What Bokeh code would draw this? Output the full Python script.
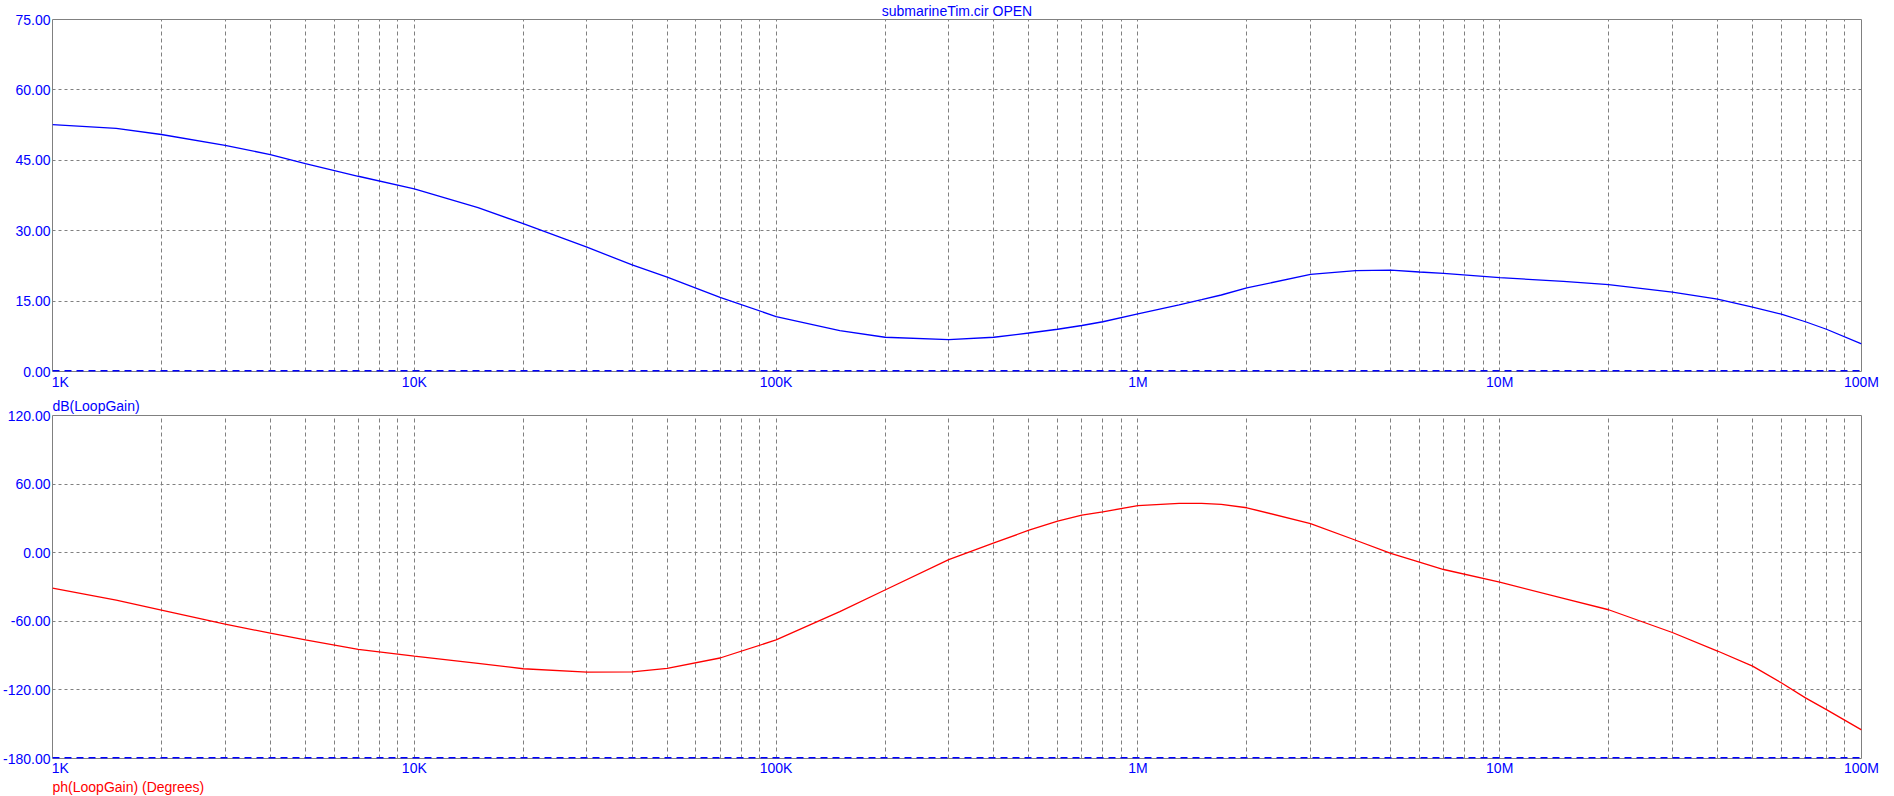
from bokeh.plotting import figure
from bokeh.models import (Range1d, Span, FixedTicker, PrintfTickFormatter, Title)
from bokeh.layouts import column
from bokeh.embed import file_html
from bokeh.resources import INLINE

# ---------------- data ----------------
freq = [1e3, 1.5e3, 2e3, 3e3, 4e3, 5e3, 7e3, 1e4, 1.5e4, 2e4, 3e4, 4e4, 5e4,
        7e4, 1e5, 1.5e5, 2e5, 3e5, 4e5, 5e5, 6e5, 7e5, 8e5, 1e6, 1.3e6,
        1.5e6, 1.7e6, 2e6, 3e6, 4e6, 5e6, 6e6, 7e6, 1e7, 1.5e7, 2e7, 3e7,
        4e7, 5e7, 6e7, 7e7, 8e7, 1e8]
mag_db = [52.6, 51.8, 50.5, 48.2, 46.2, 44.3, 41.6, 38.9, 34.9, 31.5, 26.5,
          22.7, 20.1, 15.8, 11.7, 8.7, 7.3, 6.8, 7.3, 8.2, 9.0, 9.8, 10.6,
          12.3, 14.2, 15.3, 16.3, 17.8, 20.7, 21.5, 21.6, 21.2, 20.9, 20.0,
          19.2, 18.5, 16.9, 15.4, 13.7, 12.2, 10.6, 9.0, 5.9]
phase_deg = [-31.0, -41.4, -50.2, -62.5, -70.4, -76.3, -84.5, -90.4, -96.8,
             -101.5, -104.5, -104.2, -101.2, -92.1, -76.3, -51.6, -32.6, -6.0,
             8.5, 19.7, 27.6, 32.9, 35.8, 41.1, 43.1, 43.2, 42.3, 39.3, 25.5,
             10.9, -0.6, -8.2, -14.7, -25.8, -39.9, -49.9, -69.8, -86.0, -99.2,
             -113.8, -127.0, -137.3, -155.0]

x_ticks = [1e3, 1e4, 1e5, 1e6, 1e7, 1e8]
x_tick_labels = ["\u00a0\u00a0\u00a0\u00a01K", "10K", "100K", "1M", "10M", "100M"]
mag_ticks = [0, 15, 30, 45, 60, 75]
phase_ticks = [-180, -120, -60, 0, 60, 120]

title_text = "submarineTim.cir OPEN"
mag_label = "dB(LoopGain)"
phase_label = "ph(LoopGain) (Degrees)"

# ---------------- style / layout ----------------
W = 1890
LB, RB = 52, 29
FONT = "Liberation Sans"
FS = "14px"
BLUE = "#0000ff"
RED = "#ff0000"
GRID = "#808080"
X0, X1 = 1e3, 1e8

minor_x = [m * 10 ** k for k in range(3, 8) for m in range(2, 10)]


def make(height, top, bottom, y0, y1, yticks, x_standoff):
    p = figure(width=W, height=height, x_axis_type="log",
               x_range=Range1d(X0, X1), y_range=Range1d(y0, y1),
               output_backend="svg", toolbar_location=None,
               min_border_left=LB, min_border_right=RB,
               min_border_top=top, min_border_bottom=bottom)
    p.outline_line_color = GRID
    p.outline_line_width = 1
    p.background_fill_color = "white"
    p.border_fill_color = "white"

    xt = FixedTicker(ticks=x_ticks, minor_ticks=minor_x)
    p.xaxis.ticker = xt
    p.xaxis.major_label_overrides = {t: s for t, s in zip(x_ticks, x_tick_labels)}
    p.yaxis.ticker = FixedTicker(ticks=yticks)
    p.yaxis.formatter = PrintfTickFormatter(format="%.2f")
    for ax in (p.xaxis, p.yaxis):
        ax.axis_line_color = None
        ax.major_tick_line_color = None
        ax.minor_tick_line_color = None
        ax.major_tick_out = 0
        ax.major_tick_in = 0
        ax.minor_tick_out = 0
        ax.minor_tick_in = 0
        ax.major_label_text_color = BLUE
        ax.major_label_text_font = FONT
        ax.major_label_text_font_size = FS
    p.yaxis.major_label_standoff = 2
    p.xaxis.major_label_standoff = x_standoff

    p.xgrid.ticker = xt
    p.xgrid.grid_line_color = GRID
    p.xgrid.grid_line_dash = "4 3"
    p.xgrid.minor_grid_line_color = GRID
    p.xgrid.minor_grid_line_dash = "4 3"
    p.ygrid.ticker = FixedTicker(ticks=yticks)
    p.ygrid.grid_line_color = GRID
    p.ygrid.grid_line_dash = "3 3"
    return p


def title(text, color, align, standoff, valign="bottom"):
    return Title(text=text, align=align, text_color=color, text_font=FONT,
                 text_font_size=FS, text_font_style="normal",
                 standoff=standoff, vertical_align=valign)


# ---- magnitude plot ----
p1 = make(392, 19, 5, 0, 75, mag_ticks, 2)
p1.line(freq, mag_db, line_color=BLUE, line_width=1.3)
p1.add_layout(Span(location=0, dimension="width", line_color=BLUE,
                   line_width=3, line_dash="7 5"))
p1.add_layout(title(title_text, BLUE, "center", 1), "above")

# ---- phase plot ----
p2 = make(403, 23, 37, -180, 120, phase_ticks, 1)
p2.line(freq, phase_deg, line_color=RED, line_width=1.3)
p2.add_layout(Span(location=-180, dimension="width", line_color=BLUE,
                   line_width=3, line_dash="7 5"))
p2.add_layout(title(mag_label, BLUE, "left", 0, "top"), "above")
p2.add_layout(title(phase_label, RED, "left", -4), "below")

layout = column(p1, p2, spacing=0)
open("out.html", "w").write(file_html(layout, INLINE))
